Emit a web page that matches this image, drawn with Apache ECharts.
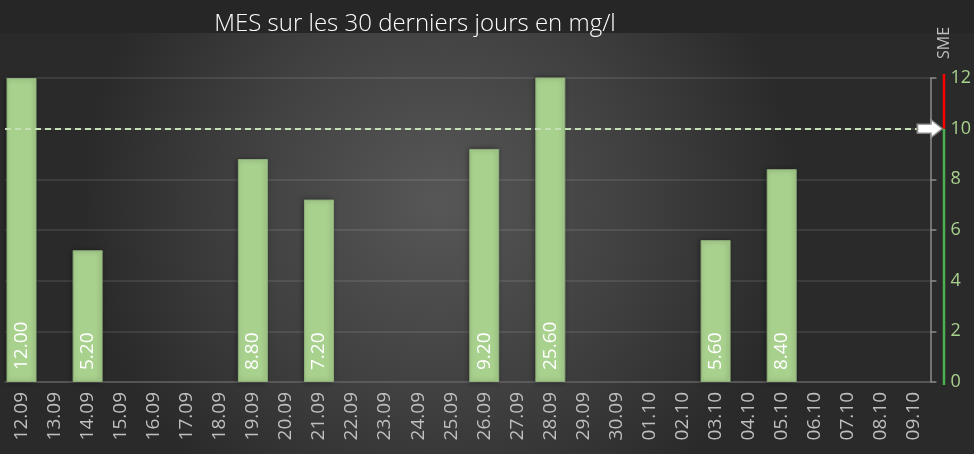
<!DOCTYPE html>
<html><head><meta charset="utf-8">
<script src="https://cdn.jsdelivr.net/npm/echarts@6/dist/echarts.min.js"></script>
<style>html,body{margin:0;padding:0;background:#262626}#c{width:974px;height:454px}</style>
</head><body><div id="c"></div>
<script>
const categories = ['12.09','13.09','14.09','15.09','16.09','17.09','18.09','19.09','20.09','21.09','22.09','23.09','24.09','25.09','26.09','27.09','28.09','29.09','30.09','01.10','02.10','03.10','04.10','05.10','06.10','07.10','08.10','09.10'];
const mesValues = [12.00,null,5.20,null,null,null,null,8.80,null,7.20,null,null,null,null,9.20,null,25.60,null,null,null,null,5.60,null,8.40,null,null,null,null];
const limitValue = 10;
const yTicks = {min:0, max:12, interval:2};
const titleText = 'MES sur les 30 derniers jours en mg/l';
const axisName = 'SME';

const chart = echarts.init(document.getElementById('c'));
const FONT = '"Open Sans", "Noto Sans", sans-serif';
chart.setOption({
  backgroundColor: '#262626',
  animation: false,
  title: {
    text: titleText, left: 410, top: 7, textAlign: 'center',
    textStyle: {color: '#ffffff', fontSize: 24, fontWeight: 300, fontFamily: FONT}
  },
  grid: {left: 5, right: 40, top: 78, bottom: 72},
  xAxis: {
    type: 'category', data: categories,
    axisLine: {lineStyle: {color: '#5e5e5e', width: 1.5}},
    axisTick: {show: false},
    axisLabel: {rotate: 90, color: '#bfbfbf', fontSize: 19, fontFamily: FONT, margin: 10, interval: 0}
  },
  yAxis: {
    type: 'value', position: 'right', min: yTicks.min, max: yTicks.max, interval: yTicks.interval,
    axisLine: {show: true, lineStyle: {color: '#8c8c8c', width: 1.5}},
    axisTick: {show: true, length: 6, lineStyle: {color: '#8c8c8c', width: 1.5}},
    axisLabel: {color: '#a9d18e', fontSize: 18, fontFamily: FONT, margin: 20},
    splitLine: {lineStyle: {color: 'rgba(255,255,255,0.12)', width: 1.5}}
  },
  series: [{
    type: 'bar', data: mesValues, barWidth: 30, clip: true,
    itemStyle: {color: '#a9d18e', borderColor: '#8fb07c', borderWidth: 1,
      shadowBlur: 5, shadowColor: 'rgba(0,0,0,0.4)', shadowOffsetX: -1},
    label: {
      show: true, position: 'insideBottom', rotate: 90, align: 'left', verticalAlign: 'middle',
      distance: 12, color: '#ffffff', fontSize: 19, fontFamily: FONT,
      formatter: p => p.value == null ? '' : Number(p.value).toFixed(2)
    },
    markLine: {
      silent: true, symbol: ['none','none'],
      lineStyle: {color: '#c5e0b4', type: [6,4], width: 2},
      label: {show: false},
      data: [{yAxis: limitValue}]
    },
    markPoint: {
      silent: true,
      symbol: 'path://M0,4 L13,4 L13,0 L24,8 L13,16 L13,12 L0,12 Z',
      symbolSize: [25, 18],
      symbolOffset: [16, 0],
      itemStyle: {color: '#ffffff', borderColor: '#8c8c8c', borderWidth: 1.5},
      label: {show: false},
      data: [{coord: [categories[categories.length-1], limitValue]}]
    }
  }]
});

function drawExtras(){
  const gridRight = 974 - 40;
  const lx = gridRight + 10;
  const y0 = chart.convertToPixel({yAxisIndex:0}, yTicks.min);
  const yL = chart.convertToPixel({yAxisIndex:0}, limitValue);
  const yM = chart.convertToPixel({yAxisIndex:0}, yTicks.max);
  chart.setOption({
    graphic: [
      {type: 'rect', z: -100, silent: true, shape: {x: 0, y: 33, width: 974, height: 421},
        style: {fill: new echarts.graphic.RadialGradient(0.45, 0.4, 0.85, [
          {offset: 0, color: '#575757'}, {offset: 0.55, color: '#404040'}, {offset: 1, color: '#2a2a2a'}])}},
      {type: 'line', silent: true, shape: {x1: lx, y1: y0 + 3, x2: lx, y2: yL}, style: {stroke: '#4caf50', lineWidth: 2.5}},
      {type: 'line', silent: true, shape: {x1: lx, y1: yL, x2: lx, y2: yM - 4}, style: {stroke: '#ff0000', lineWidth: 2.5}},
      {type: 'text', silent: true, x: 944, y: 43, rotation: Math.PI/2,
        style: {text: axisName, fill: '#bfbfbf', fontSize: 16, fontFamily: FONT, align: 'center', verticalAlign: 'middle'}}
    ]
  });
}
drawExtras();
</script></body></html>
